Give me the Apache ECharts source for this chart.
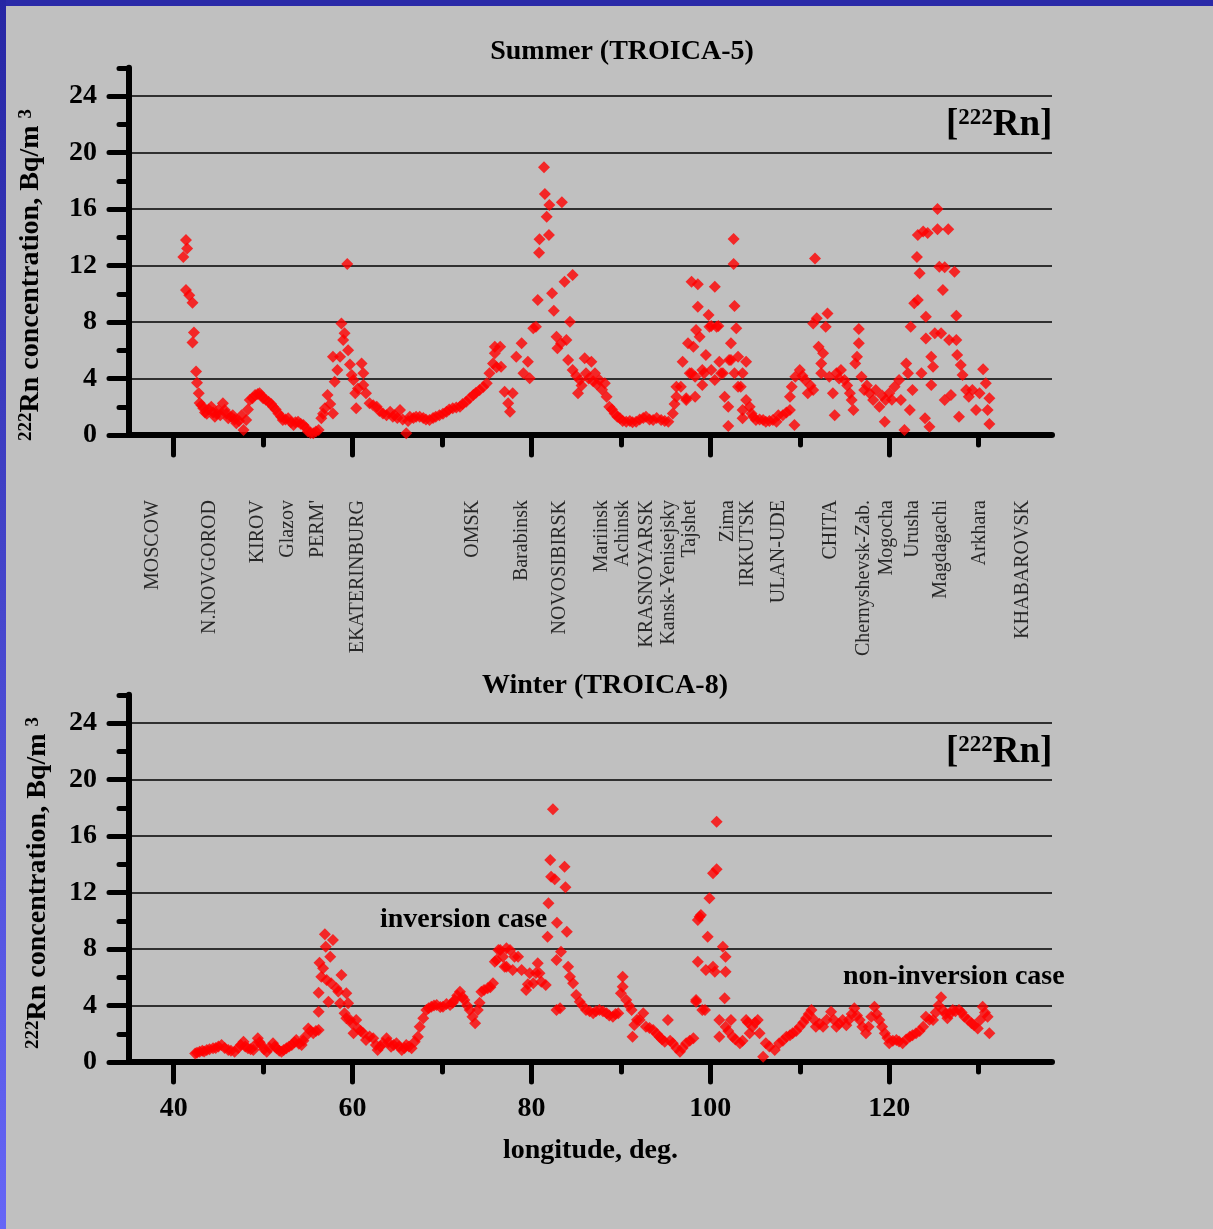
<!DOCTYPE html>
<html>
<head>
<meta charset="utf-8">
<script src="https://cdn.jsdelivr.net/npm/echarts@6/dist/echarts.min.js"></script>
<style>
  html, body { margin: 0; padding: 0; background: #c0c0c0; }
  #chart { width: 1213px; height: 1229px; }
</style>
</head>
<body>
<div id="chart"></div>
<script>
// 222Rn concentration (Bq/m3) along the Trans-Siberian railway, [longitude, value]
const summerRn = [
  [41.07,12.6],[41.37,13.8],[41.5,13.2],[41.37,10.27],[41.74,9.9],[42.1,9.37],[42.26,7.25],[42.1,6.55],
  [42.5,4.5],[42.6,3.7],[42.8,2.95],[42.9,2.26],[43.1,2.1],[43.3,1.9],[43.5,1.6],[43.7,1.5],[43.9,1.8],
  [44.2,2.0],[44.4,1.6],[44.6,1.3],[44.8,1.5],[45.0,1.77],[45.2,1.4],[45.5,2.24],[45.7,1.77],[45.9,1.5],
  [46.1,1.18],[46.4,1.3],[46.6,1.4],[46.8,1.1],[47.0,0.83],[47.3,1.0],[47.6,1.4],[47.8,0.35],[48.1,1.06],
  [48.3,1.8],[48.5,2.48],[48.8,2.6],[49.1,2.83],[49.4,2.9],[49.6,2.95],[49.8,2.8],[50.0,2.6],[50.3,2.5],
  [50.6,2.36],[50.9,2.2],[51.1,2.0],[51.4,1.8],[51.7,1.53],[52.0,1.3],[52.2,1.06],[52.5,1.1],[52.8,1.18],
  [53.1,0.9],[53.4,0.71],[53.6,0.9],[53.9,0.94],[54.2,0.8],[54.5,0.71],[54.8,0.5],[55.0,0.24],[55.3,0.15],
  [55.6,0.12],[55.9,0.25],[56.2,0.35],[56.5,1.18],[56.7,1.5],[56.9,1.9],[57.2,2.83],[57.5,2.2],[57.8,1.53],
  [57.8,5.54],[58.0,3.77],[58.3,4.6],[58.6,5.54],[58.75,7.9],[58.95,6.73],[59.1,7.2],[59.4,12.1],[59.5,6.0],
  [59.7,5.0],[59.9,4.25],[60.1,3.9],[60.3,2.95],[60.4,1.9],[60.6,3.3],[61.0,5.07],[61.2,4.37],[61.2,3.54],
  [61.5,2.95],[61.9,2.24],[62.3,2.1],[62.7,2.0],[63.0,1.7],[63.4,1.53],[63.8,1.4],[64.2,1.65],[64.5,1.3],
  [64.7,1.4],[65.0,1.2],[65.3,1.77],[65.6,1.1],[66.0,0.12],[66.2,1.0],[66.4,1.3],[66.8,1.2],[67.1,1.3],
  [67.5,1.3],[67.9,1.2],[68.2,1.1],[68.6,1.06],[69.0,1.2],[69.3,1.3],[69.7,1.4],[70.1,1.5],[70.5,1.65],
  [70.8,1.8],[71.2,1.9],[71.6,1.95],[72.0,2.0],[72.3,2.2],[72.7,2.36],[73.1,2.6],[73.5,2.83],[73.8,3.0],
  [74.2,3.19],[74.6,3.4],[75.0,3.66],[75.3,4.37],[75.7,5.07],[75.9,5.78],[75.9,6.25],[76.1,4.8],[76.5,6.25],
  [76.6,4.84],[77.0,3.07],[77.4,2.24],[77.6,1.65],[77.9,2.95],[78.3,5.54],[78.9,6.49],[79.1,4.37],[79.6,5.19],
  [79.8,4.01],[80.2,7.55],[80.5,7.67],[80.7,9.56],[80.85,12.9],[80.9,13.85],[81.4,18.95],[81.5,17.06],
  [81.7,15.46],[81.95,14.16],[82.0,16.28],[82.3,10.03],[82.5,8.8],[82.8,6.96],[82.9,6.14],[83.3,6.49],
  [83.4,16.47],[83.7,10.85],[83.9,6.73],[84.1,5.31],[84.3,8.02],[84.6,11.33],[84.6,4.6],[85.0,4.2],
  [85.2,2.95],[85.4,3.9],[85.6,3.5],[85.95,5.43],[86.1,4.37],[86.4,4.0],[86.7,5.19],[86.9,3.8],[87.1,4.37],
  [87.3,3.6],[87.6,3.9],[87.9,3.2],[88.2,3.66],[88.4,2.71],[88.7,2.0],[89.0,1.8],[89.3,1.53],[89.6,1.3],
  [89.9,1.18],[90.2,1.0],[90.6,0.94],[91.0,1.0],[91.3,0.9],[91.7,0.94],[92.1,1.1],[92.5,1.2],[92.8,1.3],
  [93.2,1.1],[93.6,1.06],[94.0,1.2],[94.5,1.06],[94.9,1.0],[95.3,0.94],[95.8,1.53],[96.0,2.2],[96.2,2.71],
  [96.2,3.42],[96.7,3.42],[96.9,5.19],[97.3,2.6],[97.3,2.48],[97.5,6.49],[97.7,4.37],[97.9,10.85],[97.9,4.37],
  [98.1,6.25],[98.3,2.71],[98.3,4.13],[98.4,7.43],[98.6,9.08],[98.6,10.67],[98.8,6.96],[99.1,4.6],[99.1,3.54],
  [99.3,4.37],[99.5,5.66],[99.8,8.5],[99.9,7.67],[100.1,7.72],[100.1,4.6],[100.5,10.5],[100.5,3.9],[100.7,7.67],
  [100.9,7.72],[101.0,5.19],[101.2,4.37],[101.4,4.37],[101.6,2.71],[102.0,2.0],[102.0,0.64],[102.1,5.31],
  [102.3,6.49],[102.3,5.31],[102.6,13.88],[102.6,12.1],[102.7,9.13],[102.7,4.37],[102.9,7.55],[103.1,5.54],
  [103.1,3.42],[103.4,3.42],[103.6,4.37],[103.6,1.77],[103.6,1.18],[104.0,5.19],[104.0,2.48],[104.4,2.0],
  [104.6,1.53],[104.8,1.3],[105.1,1.06],[105.5,1.1],[105.9,1.06],[106.2,0.94],[106.6,1.0],[107.0,1.06],
  [107.4,0.94],[107.6,1.4],[108.1,1.4],[108.5,1.6],[108.9,1.77],[108.9,2.71],[109.1,3.42],[109.4,0.71],
  [109.5,4.13],[110.0,4.6],[110.3,4.2],[110.6,3.9],[110.9,2.95],[111.2,3.5],[111.5,3.19],[111.5,7.9],
  [111.7,12.5],[111.9,8.26],[112.1,6.25],[112.4,5.07],[112.4,4.37],[112.6,5.78],[112.9,7.67],[113.1,8.61],
  [113.3,4.13],[113.7,2.95],[113.9,1.4],[114.1,4.37],[114.4,4.0],[114.6,4.6],[115.0,3.9],[115.3,3.5],
  [115.6,2.95],[115.8,2.48],[116.0,1.77],[116.2,5.07],[116.4,5.54],[116.6,6.49],[116.6,7.5],[116.9,4.13],
  [117.2,3.19],[117.5,3.5],[117.8,2.95],[118.2,2.48],[118.5,3.19],[118.9,2.0],[119.2,2.8],[119.5,0.94],
  [119.6,2.48],[120.0,2.95],[120.3,2.5],[120.6,3.42],[121.1,3.9],[121.3,2.48],[121.7,0.35],[121.9,5.07],
  [122.1,4.37],[122.3,1.77],[122.4,7.67],[122.6,3.19],[122.8,9.32],[123.1,12.6],[123.2,9.56],[123.2,14.16],
  [123.4,11.45],[123.6,4.37],[123.8,14.4],[124.0,1.18],[124.1,8.38],[124.1,6.84],[124.3,14.3],[124.5,0.59],
  [124.7,5.54],[124.7,3.54],[124.9,4.84],[125.1,7.2],[125.4,16.0],[125.4,14.56],[125.6,11.92],[125.8,7.2],
  [126.0,10.27],[126.2,11.87],[126.2,2.48],[126.6,14.56],[126.7,6.73],[126.9,2.83],[127.3,11.56],[127.5,6.73],
  [127.5,8.45],[127.6,5.66],[127.8,1.3],[128.0,4.96],[128.2,4.25],[128.6,3.19],[128.9,2.71],[129.3,3.19],
  [129.7,1.77],[130.1,2.95],[130.5,4.65],[130.8,3.66],[131.0,1.77],[131.2,2.6],[131.2,0.78]
];

const winterRn = [
  [42.4,0.61],[42.6,0.65],[42.9,0.73],[43.2,0.8],[43.4,0.75],[43.7,0.85],[44.0,0.9],[44.4,0.97],[44.7,1.0],
  [45.0,1.1],[45.35,1.2],[45.7,1.0],[46.1,0.85],[46.4,0.8],[46.8,0.73],[47.2,1.0],[47.5,1.2],[47.8,1.44],
  [48.0,1.1],[48.3,0.97],[48.6,0.9],[48.9,0.85],[49.1,1.2],[49.4,1.68],[49.6,1.4],[49.8,1.2],[50.1,0.9],
  [50.4,0.73],[50.7,1.0],[51.1,1.32],[51.3,1.1],[51.5,0.97],[51.8,0.8],[52.05,0.73],[52.3,0.85],[52.6,0.97],
  [52.9,1.1],[53.2,1.2],[53.5,1.4],[53.7,1.56],[54.0,1.3],[54.3,1.2],[54.5,1.5],[54.7,1.79],[55.05,2.38],
  [55.3,2.2],[55.6,2.03],[55.9,2.2],[56.2,2.27],[56.2,3.56],[56.2,4.91],[56.3,7.03],[56.5,6.04],[56.7,6.63],
  [56.9,9.04],[57.0,8.16],[57.1,5.8],[57.3,4.27],[57.5,7.45],[57.6,5.57],[57.8,8.64],[58.2,5.22],[58.4,5.0],
  [58.6,4.16],[58.75,6.16],[59.1,3.45],[59.3,4.86],[59.3,3.09],[59.5,4.16],[59.7,3.0],[59.9,2.74],[60.1,2.03],
  [60.4,2.97],[60.6,2.38],[60.9,2.2],[61.2,2.03],[61.5,1.56],[61.9,1.8],[62.3,1.68],[62.6,1.2],[62.8,0.85],
  [63.1,1.1],[63.4,1.32],[63.8,1.68],[64.0,1.4],[64.3,1.08],[64.6,1.2],[64.9,1.32],[65.2,1.1],[65.5,0.85],
  [65.8,1.0],[66.0,1.2],[66.3,1.1],[66.6,0.97],[66.95,1.44],[67.3,1.79],[67.5,2.5],[67.9,3.09],[68.25,3.68],
  [68.5,3.8],[68.8,3.92],[69.1,4.0],[69.4,4.04],[69.8,3.9],[70.1,3.92],[70.5,4.1],[70.9,4.04],[71.2,4.2],
  [71.4,4.39],[71.7,4.7],[72.0,4.98],[72.3,4.6],[72.5,4.39],[72.8,4.0],[73.1,3.68],[73.4,3.2],[73.7,2.74],
  [74.0,3.68],[74.2,4.2],[74.4,4.98],[74.7,5.1],[75.1,5.22],[75.4,5.3],[75.7,5.57],[75.9,7.1],[76.1,7.22],
  [76.3,7.93],[76.5,7.93],[76.8,7.45],[77.0,6.75],[77.2,8.05],[77.2,6.75],[77.6,7.93],[77.9,6.51],[78.1,7.45],
  [78.5,7.45],[78.9,6.51],[79.4,5.1],[79.6,5.5],[79.8,6.28],[80.2,5.57],[80.5,6.3],[80.7,6.99],[80.9,6.28],
  [81.1,5.69],[81.6,5.45],[81.8,8.87],[81.9,11.24],[82.1,14.3],[82.2,13.12],[82.4,17.9],[82.6,12.93],
  [82.8,7.22],[82.8,3.68],[82.85,9.86],[83.2,3.8],[83.3,7.81],[83.7,13.83],[83.8,12.37],[83.95,9.23],
  [84.1,6.75],[84.3,6.04],[84.65,5.57],[85.0,4.74],[85.4,4.27],[85.7,4.0],[86.1,3.68],[86.5,3.6],[86.9,3.45],
  [87.2,3.6],[87.6,3.68],[88.0,3.6],[88.4,3.45],[88.7,3.3],[89.1,3.21],[89.4,3.4],[89.7,3.45],[90.0,4.86],
  [90.2,6.04],[90.2,5.33],[90.6,4.39],[90.9,4.0],[91.2,3.68],[91.3,1.79],[91.5,2.62],[91.8,3.0],[92.1,2.97],
  [92.5,3.45],[92.8,2.5],[93.2,2.4],[93.6,2.27],[94.0,2.0],[94.3,1.79],[94.6,1.6],[94.9,1.44],[95.25,2.97],
  [95.5,1.5],[95.8,1.32],[96.2,1.0],[96.6,0.73],[96.9,1.0],[97.3,1.32],[97.7,1.5],[98.1,1.68],[98.4,4.27],
  [98.4,4.39],[98.6,7.1],[98.6,10.05],[98.8,10.29],[98.95,10.4],[99.1,3.68],[99.4,3.68],[99.5,6.51],
  [99.7,8.87],[99.9,11.59],[100.3,13.36],[100.3,6.75],[100.5,6.39],[100.7,13.64],[100.7,17.01],[101.0,2.97],
  [101.0,1.79],[101.4,8.16],[101.6,4.51],[101.7,7.45],[101.7,6.39],[101.7,2.5],[102.0,2.2],[102.3,2.97],
  [102.5,1.79],[102.8,1.6],[103.3,1.32],[103.6,1.5],[104.0,2.97],[104.2,2.8],[104.4,2.03],[104.7,2.5],
  [105.0,2.8],[105.3,2.97],[105.5,2.03],[105.9,0.38],[106.2,1.32],[106.6,1.1],[107.2,0.85],[107.7,1.32],
  [108.1,1.5],[108.5,1.79],[108.9,1.9],[109.2,2.03],[109.6,2.2],[110.0,2.5],[110.4,2.8],[110.7,3.09],
  [111.0,3.4],[111.3,3.68],[111.6,3.0],[111.8,2.5],[112.2,2.7],[112.6,2.5],[113.0,3.0],[113.5,3.56],
  [113.8,3.0],[114.1,2.5],[114.4,2.7],[114.8,2.97],[115.2,2.6],[115.5,3.0],[115.8,3.4],[116.1,3.8],
  [116.4,3.3],[116.7,2.97],[117.0,2.5],[117.4,2.03],[117.7,2.5],[118.0,3.2],[118.35,3.92],[118.6,3.4],
  [118.9,2.97],[119.2,2.5],[119.5,2.03],[119.8,1.7],[120.0,1.32],[120.4,1.5],[120.8,1.56],[121.1,1.45],
  [121.5,1.32],[121.9,1.6],[122.3,1.79],[122.6,1.9],[123.0,2.03],[123.4,2.2],[123.8,2.5],[124.1,3.21],
  [124.5,3.0],[124.9,2.97],[125.2,3.5],[125.5,4.0],[125.8,4.58],[126.0,3.68],[126.3,3.4],[126.5,3.09],
  [126.8,3.4],[127.1,3.68],[127.4,3.6],[127.8,3.68],[128.1,3.5],[128.4,3.21],[128.8,3.0],[129.2,2.74],
  [129.5,2.6],[129.9,2.38],[130.2,3.0],[130.45,3.92],[130.7,3.5],[131.0,3.21],[131.2,2.03]
];

// Stations along the route and their longitudes
const cityNames = ['MOSCOW','N.NOVGOROD','KIROV','Glazov',"PERM'",'EKATERINBURG','OMSK','Barabinsk',
  'NOVOSIBIRSK','Mariinsk','Achinsk','KRASNOYARSK','Kansk-Yenisejsky','Tajshet','Zima','IRKUTSK',
  'ULAN-UDE','CHITA','Chernyshevsk-Zab.','Mogocha','Urusha','Magdagachi','Arkhara','KHABAROVSK'];
const cityLon = [37.7,44.05,49.4,52.8,56.1,60.6,73.4,78.9,83.2,87.85,90.2,92.9,95.4,97.7,101.9,104.2,
  107.7,113.5,117.2,119.7,122.6,125.8,130.1,134.9];

// Axis tick positions
const xMajorTicks = [40, 60, 80, 100, 120];
const xMinorTicks = [50, 70, 90, 110, 130];
const yMajorTicks = [0, 4, 8, 12, 16, 20, 24];

const SERIF = "'Liberation Serif', 'Times New Roman', serif";
const X_MIN = 35, X_MAX = 138.2, Y_MAX = 26;

const chart = echarts.init(document.getElementById('chart'), null, { renderer: 'canvas' });

function xMajor(gridIndex, withLabels) {
  return {
    type: 'value', gridIndex, min: X_MIN, max: X_MAX, position: 'bottom',
    axisLine: { show: true, onZero: false, lineStyle: { color: '#000', width: 6, cap: 'round' } },
    axisTick: { show: true, customValues: xMajorTicks, length: 20, lineStyle: { color: '#000', width: 5, cap: 'round' } },
    axisLabel: withLabels
      ? { show: true, customValues: xMajorTicks, margin: 33, color: '#000', fontFamily: SERIF, fontWeight: 'bold', fontSize: 28 }
      : { show: false },
    splitLine: { show: false },
    name: withLabels ? 'longitude, deg.' : '',
    nameLocation: 'middle', nameGap: 75,
    nameTextStyle: { color: '#000', fontFamily: SERIF, fontWeight: 'bold', fontSize: 28 }
  };
}
function xMinor(gridIndex) {
  return {
    type: 'value', gridIndex, min: X_MIN, max: X_MAX, position: 'bottom',
    axisLine: { show: false, onZero: false },
    axisTick: { show: true, customValues: xMinorTicks, length: 10, lineStyle: { color: '#000', width: 5, cap: 'round' } },
    axisLabel: { show: false }, splitLine: { show: false }
  };
}
function yMajor(gridIndex) {
  return {
    type: 'value', gridIndex, min: 0, max: Y_MAX, position: 'left',
    axisLine: { show: true, onZero: false, lineStyle: { color: '#000', width: 6, cap: 'round' } },
    axisTick: { show: true, customValues: yMajorTicks, length: 20, lineStyle: { color: '#000', width: 5, cap: 'round' } },
    axisLabel: { show: true, customValues: yMajorTicks, margin: 32, color: '#000', fontFamily: SERIF, fontWeight: 'bold', fontSize: 28 },
    splitLine: { show: false }
  };
}
function yMinor(gridIndex) {
  // every 2 units: short ticks; grid lines only on multiples of 4 (below the top)
  return {
    type: 'value', gridIndex, min: 0, max: Y_MAX, interval: 2, position: 'left',
    axisLine: { show: false, onZero: false },
    axisTick: { show: true, length: 10, lineStyle: { color: '#000', width: 5, cap: 'round' } },
    axisLabel: { show: false },
    splitLine: { show: true, showMinLine: true, showMaxLine: true, lineStyle: { color: ['#000', 'rgba(0,0,0,0)'], width: 1.5 } }
  };
}

const diamondStyle = { color: '#ff0000' };
const tagRich = {
  b: { fontFamily: SERIF, fontWeight: 'bold', fontSize: 37, fill: '#000' },
  s: { fontFamily: SERIF, fontWeight: 'bold', fontSize: 23, fill: '#000', verticalAlign: 'top' }
};
const nameRich = {
  b: { fontFamily: SERIF, fontWeight: 'bold', fontSize: 28, fill: '#000' },
  s: { fontFamily: SERIF, fontWeight: 'bold', fontSize: 19, fill: '#000', verticalAlign: 'top' }
};

const option = {
  backgroundColor: '#c0c0c0',
  animation: false,
  grid: [
    { left: 129, top: 67.75, width: 923, height: 367.25 },
    { left: 129, top: 694.75, width: 923, height: 367.25 },
    { left: 129, top: 500, width: 923, height: 150 }
  ],
  xAxis: [
    xMajor(0, false), xMinor(0),
    xMajor(1, true), xMinor(1),
    { type: 'value', gridIndex: 2, min: X_MIN, max: X_MAX, show: false }
  ],
  yAxis: [
    yMajor(0), yMinor(0),
    yMajor(1), yMinor(1),
    { type: 'value', gridIndex: 2, min: 0, max: 1, show: false }
  ],
  series: [
    {
      name: 'Summer (TROICA-5)', type: 'scatter', xAxisIndex: 0, yAxisIndex: 0,
      symbol: 'diamond', symbolSize: 12, itemStyle: diamondStyle, data: summerRn, z: 5
    },
    {
      name: 'Winter (TROICA-8)', type: 'scatter', xAxisIndex: 2, yAxisIndex: 2,
      symbol: 'diamond', symbolSize: 12, itemStyle: diamondStyle, data: winterRn, z: 5
    },
    {
      name: 'stations', type: 'scatter', xAxisIndex: 4, yAxisIndex: 4, silent: true,
      symbol: 'circle', symbolSize: 1, itemStyle: { color: 'rgba(0,0,0,0)' },
      data: cityLon.map((lon, i) => [lon, 1, cityNames[i]]),
      label: {
        show: true, position: 'inside', rotate: 90, align: 'right', verticalAlign: 'middle',
        formatter: p => p.data[2], color: '#000', fontFamily: SERIF, fontSize: 20
      }
    }
  ],
  graphic: [
    // frame bands
    { type: 'rect', left: 0, top: 0, shape: { width: 1213, height: 6 }, style: { fill: '#2a2aa8' }, z: 100 },
    { type: 'rect', left: 0, top: 0, shape: { width: 6, height: 1229 }, z: 100,
      style: { fill: new echarts.graphic.LinearGradient(0, 0, 0, 1, [
        { offset: 0, color: '#2626a4' }, { offset: 1, color: '#6666f6' }]) } },
    // panel titles
    { type: 'text', x: 622, y: 52, style: { text: 'Summer (TROICA-5)', align: 'center', verticalAlign: 'middle',
      fill: '#000', font: "bold 28px " + SERIF } },
    { type: 'text', x: 605, y: 686, style: { text: 'Winter (TROICA-8)', align: 'center', verticalAlign: 'middle',
      fill: '#000', font: "bold 28px " + SERIF } },
    // isotope tags
    { type: 'text', x: 946, y: 125, style: { text: '{b|[}{s|222}{b|Rn]}', align: 'left', verticalAlign: 'middle', rich: tagRich } },
    { type: 'text', x: 946, y: 752, style: { text: '{b|[}{s|222}{b|Rn]}', align: 'left', verticalAlign: 'middle', rich: tagRich } },
    // y-axis titles
    { type: 'text', x: 31, y: 275, rotation: Math.PI / 2,
      style: { text: '{s|222}{b|Rn concentration, Bq/m }{s|3}', align: 'center', verticalAlign: 'middle', rich: nameRich } },
    { type: 'text', x: 38, y: 883, rotation: Math.PI / 2,
      style: { text: '{s|222}{b|Rn concentration, Bq/m }{s|3}', align: 'center', verticalAlign: 'middle', rich: nameRich } },
    // annotations in the winter panel
    { type: 'text', x: 380, y: 920, style: { text: 'inversion case', align: 'left', verticalAlign: 'middle',
      fill: '#000', font: "bold 28px " + SERIF } },
    { type: 'text', x: 843, y: 977, style: { text: 'non-inversion case', align: 'left', verticalAlign: 'middle',
      fill: '#000', font: "bold 28px " + SERIF } }
  ]
};

chart.setOption(option);
</script>
</body>
</html>
